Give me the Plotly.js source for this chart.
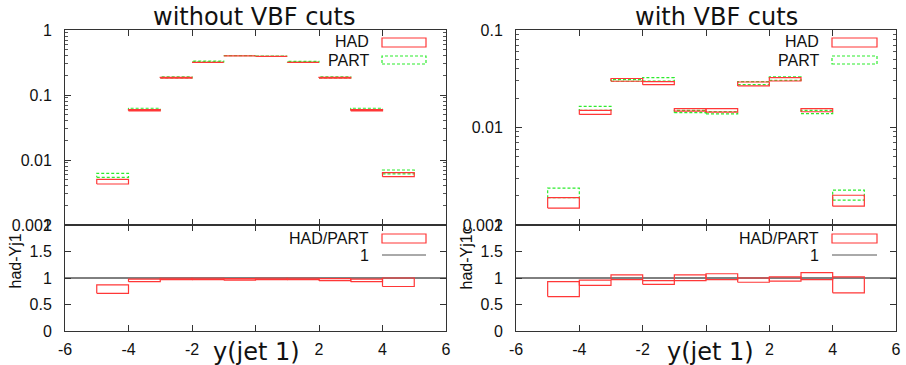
<!DOCTYPE html>
<html>
<head>
<meta charset="utf-8">
<script src="https://cdn.plot.ly/plotly-3.0.1.min.js"></script>
<style>html,body{margin:0;padding:0;background:#fff;}#chart{width:906px;height:365px;}</style>
</head>
<body>
<div id="chart"></div>
<script>
// ---- data ----
const binLo = [-5, -4, -3, -2, -1, 0, 1, 2, 3, 4];
const binHi = [-4, -3, -2, -1, 0, 1, 2, 3, 4, 5];

// without VBF cuts
const hadLoL  = [0.00427, 0.0570, 0.182, 0.318, 0.400, 0.392, 0.317, 0.182, 0.0570, 0.00553];
const hadHiL  = [0.00505, 0.0595, 0.187, 0.326, 0.409, 0.400, 0.325, 0.187, 0.0595, 0.00638];
const partLoL = [0.00542, 0.0590, 0.184, 0.322, 0.404, 0.395, 0.320, 0.184, 0.0590, 0.00610];
const partHiL = [0.00624, 0.0625, 0.190, 0.331, 0.414, 0.404, 0.329, 0.190, 0.0625, 0.00702];
const ratLoL  = [0.71, 0.93, 0.97, 0.97, 0.96, 0.97, 0.97, 0.95, 0.93, 0.84];
const ratHiL  = [0.87, 0.98, 0.995, 0.995, 0.99, 0.995, 0.995, 0.99, 0.98, 1.0];

// with VBF cuts
const hadLoR  = [0.00149, 0.01362, 0.0298, 0.0275, 0.0147, 0.0144, 0.0267, 0.0300, 0.0145, 0.00156];
const hadHiR  = [0.00191, 0.01496, 0.0318, 0.0296, 0.0156, 0.0156, 0.0293, 0.0325, 0.0156, 0.00202];
const partLoR = [0.00191, 0.01496, 0.0298, 0.0300, 0.0142, 0.0138, 0.0275, 0.0305, 0.0139, 0.00180];
const partHiR = [0.00239, 0.01644, 0.0310, 0.0325, 0.0150, 0.0146, 0.0296, 0.0330, 0.0150, 0.00228];
const ratLoR  = [0.65, 0.86, 0.97, 0.88, 0.95, 0.97, 0.92, 0.94, 0.97, 0.72];
const ratHiR  = [0.93, 0.96, 1.06, 0.95, 1.06, 1.08, 1.00, 1.02, 1.10, 1.02];

const xTickVals = [-6, -4, -2, 0, 2, 4, 6];
const xTickText = ['-6', '-4', '-2', '', '2', '4', '6'];
const legTop = ['HAD', 'PART'];
const legRat = ['HAD/PART', '1'];

// ---- helpers ----
function boxes(lo, hi) {
  const x = [], y = [];
  for (let i = 0; i < binLo.length; i++) {
    x.push(binLo[i], binHi[i], binHi[i], binLo[i], binLo[i], null);
    y.push(lo[i], lo[i], hi[i], hi[i], lo[i], null);
  }
  return {x, y};
}
const RED = 'rgb(255,55,55)';
const GREEN = 'rgb(45,235,45)';
function trace(lo, hi, xa, ya, color, dash) {
  const b = boxes(lo, hi);
  return {type: 'scatter', mode: 'lines', x: b.x, y: b.y, xaxis: xa, yaxis: ya,
    line: {color: color, width: 1.2, dash: dash || 'solid'}, hoverinfo: 'skip', showlegend: false, connectgaps: false};
}
function oneLine(xa, ya) {
  return {type: 'scatter', mode: 'lines', x: [-6, 6], y: [1, 1], xaxis: xa, yaxis: ya,
    line: {color: '#000', width: 1}, showlegend: false, hoverinfo: 'skip'};
}

const data = [
  trace(partLoL, partHiL, 'x', 'y', GREEN, '3px,2px'),
  trace(hadLoL, hadHiL, 'x', 'y', RED),
  oneLine('x2', 'y2'),
  trace(ratLoL, ratHiL, 'x2', 'y2', RED),
  trace(partLoR, partHiR, 'x3', 'y3', GREEN, '3px,2px'),
  trace(hadLoR, hadHiR, 'x3', 'y3', RED),
  oneLine('x4', 'y4'),
  trace(ratLoR, ratHiR, 'x4', 'y4', RED)
];

const W = 906, H = 365;
const px = v => v / W, py = v => (H - v) / H;
const tickFont = {family: 'Liberation Sans, Arial, sans-serif', size: 16, color: '#111'};
const axCommon = {showline: true, linecolor: '#333', linewidth: 1, mirror: 'ticks', ticks: 'inside',
  ticklen: 6, tickcolor: '#333', showgrid: false, zeroline: false, tickfont: tickFont, fixedrange: true};
const dL = [px(65), px(446)], dR = [px(516), px(896)];
const dTop = [py(225), py(30)], dRat = [py(331), py(225)];

// minor tick positions (2..9 in each decade) for log axes
function minorLog(e0, e1) {
  const v = [];
  for (let e = e0; e < e1; e++) for (let m = 2; m <= 9; m++) v.push(m * Math.pow(10, e));
  return v;
}

function xAx(domain, anchor, labels) {
  return Object.assign({}, axCommon, {domain, anchor, range: [-6, 6], tickmode: 'array',
    tickvals: xTickVals, ticktext: xTickText, showticklabels: labels, ticklabelstandoff: 4});
}
function yLog(domain, anchor, lo, hi, vals, text) {
  return Object.assign({}, axCommon, {domain, anchor, type: 'log', range: [lo, hi], tickmode: 'array',
    tickvals: vals, ticktext: text, ticklabelstandoff: 9,
    minor: {ticks: 'inside', ticklen: 3, tickcolor: '#555', tickmode: 'array', tickvals: minorLog(lo, hi), showgrid: false}});
}
function yRat(domain, anchor) {
  return Object.assign({}, axCommon, {domain, anchor, range: [0, 2], tickmode: 'array',
    tickvals: [0, 0.5, 1, 1.5, 2], ticktext: ['0', '0.5', '1', '1.5', '2'], ticklabelstandoff: 9});
}

const titleFont = {family: 'DejaVu Sans, sans-serif', size: 24, color: '#111'};
const legFont = {family: 'Liberation Sans, Arial, sans-serif', size: 16, color: '#111'};
const annotations = [];
const shapes = [];
function addText(text, x, y, xanchor, yanchor, font, angle) {
  annotations.push({text, x: px(x), y: py(y), xref: 'paper', yref: 'paper', xanchor, yanchor,
    showarrow: false, font, textangle: angle || 0, borderpad: 0});
}
// titles
addText('without VBF cuts', 254, 17, 'center', 'middle', titleFont);
addText('with VBF cuts', 716, 17, 'center', 'middle', titleFont);
// x labels
addText('y(jet 1)', 256, 352, 'center', 'middle', titleFont);
addText('y(jet 1)', 710, 352, 'center', 'middle', titleFont);
// ratio y labels
addText('had-Yj1', 15, 290, 'center', 'bottom', legFont, -90);
addText('had-Yj1c', 466, 290, 'center', 'bottom', legFont, -90);

// legends
function legend(textEnd, boxX0, boxX1) {
  addText(legTop[0], textEnd, 42, 'right', 'middle', legFont);
  addText(legTop[1], textEnd, 60, 'right', 'middle', legFont);
  shapes.push({type: 'rect', xref: 'paper', yref: 'paper', x0: px(boxX0), x1: px(boxX1), y0: py(47), y1: py(38),
    line: {color: RED, width: 1.2}});
  shapes.push({type: 'rect', xref: 'paper', yref: 'paper', x0: px(boxX0), x1: px(boxX1), y0: py(64), y1: py(56),
    line: {color: GREEN, width: 1.2, dash: '3px,2px'}});
  addText(legRat[0], textEnd, 238, 'right', 'middle', legFont);
  addText(legRat[1], textEnd, 255, 'right', 'middle', legFont);
  shapes.push({type: 'rect', xref: 'paper', yref: 'paper', x0: px(boxX0), x1: px(boxX1), y0: py(243), y1: py(234),
    line: {color: RED, width: 1.2}});
  shapes.push({type: 'line', xref: 'paper', yref: 'paper', x0: px(boxX0), x1: px(boxX1), y0: py(255), y1: py(255),
    line: {color: '#555', width: 1}});
}
legend(370, 382, 426);
legend(820, 832, 877);

const layout = {
  width: W, height: H, margin: {l: 0, r: 0, t: 0, b: 0}, paper_bgcolor: '#fff', plot_bgcolor: '#fff',
  showlegend: false,
  xaxis: xAx(dL, 'y', false),
  yaxis: yLog(dTop, 'x', -3, 0, [0.001, 0.01, 0.1, 1], ['0.001', '0.01', '0.1', '1']),
  xaxis2: xAx(dL, 'y2', true),
  yaxis2: yRat(dRat, 'x2'),
  xaxis3: xAx(dR, 'y3', false),
  yaxis3: yLog(dTop, 'x3', -3, -1, [0.001, 0.01, 0.1], ['0.001', '0.01', '0.1']),
  xaxis4: xAx(dR, 'y4', true),
  yaxis4: yRat(dRat, 'x4'),
  annotations, shapes
};
Plotly.newPlot('chart', data, layout, {staticPlot: true, displayModeBar: false});
</script>
</body>
</html>
